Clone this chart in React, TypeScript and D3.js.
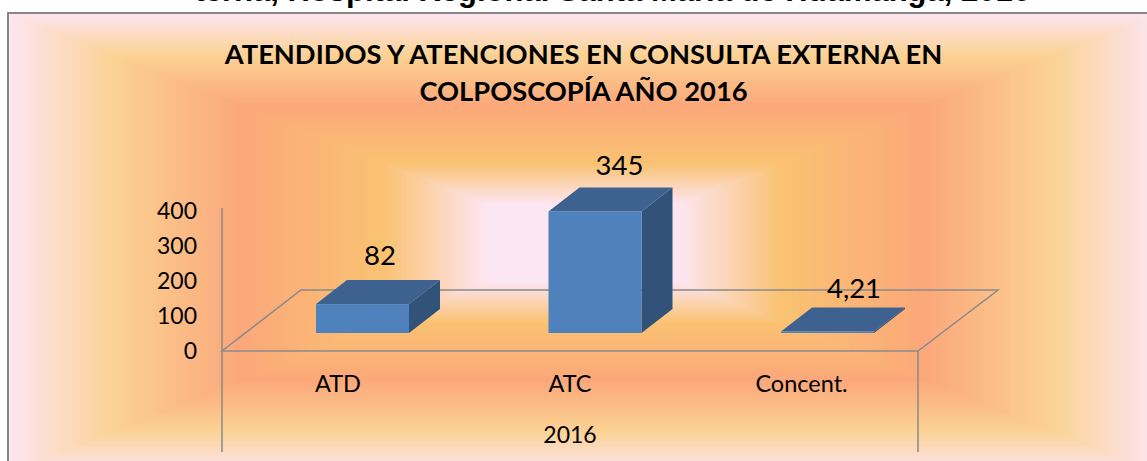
import React from "react";
import * as d3 from "d3";

const categories = ["ATD", "ATC", "Concent."];
const seriesValues = [82, 345, 4.21];
const valueLabels = ["82", "345", "4,21"];
const yTicks = [0, 100, 200, 300, 400];
const groupLabel = "2016";
const titleLines = [
  "ATENDIDOS Y ATENCIONES EN CONSULTA EXTERNA EN",
  "COLPOSCOPÍA AÑO 2016",
];
const captionAbove = "terna, Hospital Regional Santa María de Huamanga, 2016";
const bgStops = [0, 0.18, 0.4, 0.65, 0.83, 1];
const bgColors = ["#fde5f1", "#fbd294", "#fba87a", "#fac272", "#fde6f3", "#fde6f3"];

const W = 1147;
const H = 461;
const FONT = "Lato, Carlito, sans-serif";

// plot geometry
const floorLeft = 222;
const floorRight = 918;
const floorFront = 351;
const depthX = 79;
const depthY = -61;
const barBase = 333;
const barW = 93;
const barDX = 31;
const barDY = -24;

const xCenter = d3.scalePoint<string>().domain(categories).range([362.5, 827.5]);
const yAxis = d3.scaleLinear().domain([0, 400]).range([floorFront, 208]);
const yLabel = d3.scaleLinear().domain([0, 400]).range([floorFront, 211]);
const barH = d3.scaleLinear().domain([0, 400]).range([0, 141]);
const bgColor = d3.scaleLinear<string>().domain(bgStops).range(bgColors).interpolate(d3.interpolateRgb);

const bg = { cx: 583, cy: 243, hw: 575, hh: 230 };
const bgSteps = d3.range(0, 1, 1 / 140);

const poly = (pts: [number, number][]) => d3.line()(pts) + "Z";
const AXIS = "#8a8a8a";

export default function App() {
  return (
    <svg
      width={W}
      height={H}
      viewBox={`0 0 ${W} ${H}`}
      style={{ position: "absolute", left: 0, top: 0, background: "#fff" }}
    >
      <text
        x={1030}
        y={1}
        textAnchor="end"
        fontFamily="'Liberation Sans', Arial, sans-serif"
        fontWeight={700}
        fontSize={31}
        fill="#000"
      >
        {captionAbove}
      </text>

      {bgSteps.map((t) => (
        <rect
          key={t}
          x={bg.cx - bg.hw * (1 - t)}
          y={bg.cy - bg.hh * (1 - t)}
          width={2 * bg.hw * (1 - t)}
          height={2 * bg.hh * (1 - t)}
          fill={bgColor(t)}
        />
      ))}
      <rect x={8} y={13} width={W + 20} height={H + 20} fill="none" stroke="#868686" strokeWidth={2} />

      {titleLines.map((l, i) => (
        <text
          key={l}
          x={583.5}
          y={63.5 + i * 37}
          textAnchor="middle"
          fontFamily={FONT}
          fontWeight={700}
          fontSize={27.3}
          fill="#000"
        >
          {l}
        </text>
      ))}

      {/* floor and axes */}
      <g fill="none" stroke={AXIS} strokeWidth={1.5}>
        <path
          d={poly([
            [floorLeft, floorFront],
            [floorRight, floorFront],
            [floorRight + depthX + 1, floorFront + depthY],
            [floorLeft + depthX, floorFront + depthY],
          ])}
        />
        <line x1={floorLeft} x2={floorLeft} y1={yAxis(400)} y2={452} />
        <line x1={floorRight} x2={floorRight} y1={floorFront} y2={452} />
      </g>

      {yTicks.map((t) => (
        <text
          key={t}
          x={197}
          y={yLabel(t) + 8}
          textAnchor="end"
          fontFamily={FONT}
          fontSize={23}
          fill="#000"
        >
          {t}
        </text>
      ))}

      {/* bars */}
      {categories.map((c, i) => {
        const x0 = xCenter(c)! - barW / 2;
        const x1 = x0 + barW;
        const yTop = barBase - barH(seriesValues[i]);
        return (
          <g key={c}>
            <path
              d={poly([
                [x1, barBase],
                [x1 + barDX, barBase + barDY],
                [x1 + barDX, yTop + barDY],
                [x1, yTop],
              ])}
              fill="#325379"
            />
            <path
              d={poly([
                [x0, yTop],
                [x1, yTop],
                [x1 + barDX, yTop + barDY],
                [x0 + barDX, yTop + barDY],
              ])}
              fill="#3e628f"
            />
            <rect x={x0} y={yTop} width={barW} height={barH(seriesValues[i])} fill="#4f81bd" />
          </g>
        );
      })}

      {/* value labels */}
      {categories.map((c, i) => (
        <text
          key={c}
          x={[380, 619.5, 854][i]}
          y={[265, 175, 298][i]}
          textAnchor="middle"
          fontFamily={FONT}
          fontSize={27.5}
          fill="#000"
        >
          {valueLabels[i]}
        </text>
      ))}

      {/* category labels */}
      {categories.map((c, i) => (
        <text
          key={c}
          x={[338, 570, 801.5][i]}
          y={392}
          textAnchor="middle"
          fontFamily={FONT}
          fontSize={23.5}
          fill="#000"
        >
          {c}
        </text>
      ))}
      <text x={570} y={443} textAnchor="middle" fontFamily={FONT} fontSize={23} fill="#000">
        {groupLabel}
      </text>
    </svg>
  );
}
